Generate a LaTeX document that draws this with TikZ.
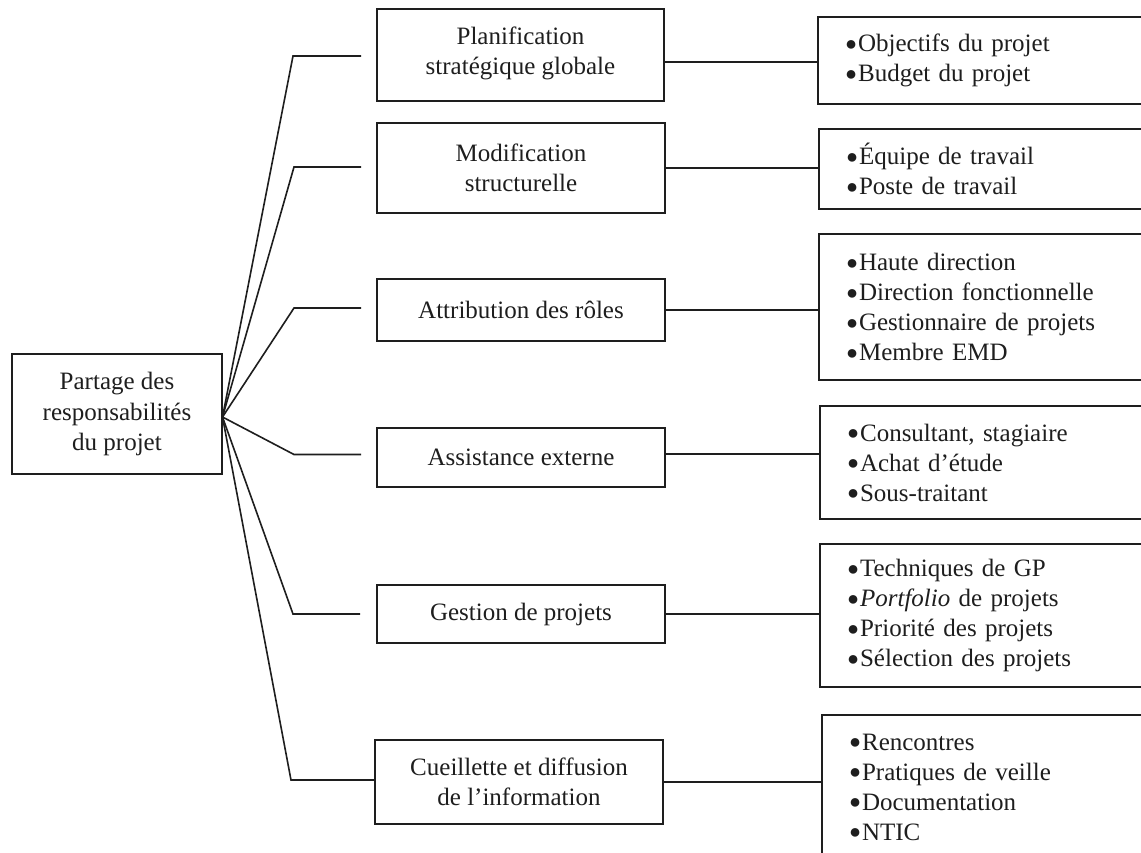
\documentclass[tikz,border=0pt]{standalone}
\usepackage{fontspec}
\setmainfont{Liberation Serif}
\definecolor{ink}{HTML}{1E1E1E}
\newcommand\pbul{\raisebox{1.2pt}{\fontsize{20}{20}\selectfont ●}\hspace{1pt}}
\tikzset{
  box/.style={draw=ink, line width=1.8pt, align=center, inner sep=0pt, text=ink,
    font=\fontsize{25}{30.5}\selectfont},
  rbox/.style={draw=ink, line width=1.8pt, align=left, inner xsep=27pt, inner ysep=0pt,
    text=ink, text width=288pt, font=\fontsize{25}{30}\selectfont},
  conn/.style={draw=ink, line width=1.6pt},
}
\begin{document}
\begin{tikzpicture}[x=1pt,y=-1pt]
\useasboundingbox (0,0) rectangle (1141,852);
\clip (0,0) rectangle (1141,852);
\fill[white] (0,0) rectangle (1141,852);

% hub
\node[box, minimum width=210pt, minimum height=120pt] (hub) at (117,414)
  {Partage des\\responsabilités\\du projet};

% middle boxes
\node[box, minimum width=287pt, minimum height=92pt] (m1) at (520.5,55)
  {Planification\\stratégique globale\\[-22pt]\mbox{}};
\node[box, minimum width=288pt, minimum height=90pt] (m2) at (521,168)
  {Modification\\structurelle};
\node[box, minimum width=288pt, minimum height=62pt] (m3) at (521,310)
  {Attribution des rôles};
\node[box, minimum width=288pt, minimum height=59pt] (m4) at (521,457.5)
  {Assistance externe};
\node[box, minimum width=288pt, minimum height=58pt] (m5) at (521,614)
  {Gestion de projets};
\node[box, minimum width=288pt, minimum height=84pt] (m6) at (519,782)
  {Cueillette et diffusion\\de l’information};

% right boxes
\node[rbox, minimum height=87pt] (r1) at (989,60.5)
  {\pbul Objectifs du projet\\\pbul Budget du projet};
\node[rbox, minimum height=80pt] (r2) at (990,169)
  {\pbul Équipe de travail\\\pbul Poste de travail};
\node[rbox, minimum height=146pt] (r3) at (990,307)
  {\pbul Haute direction\\\pbul Direction fonctionnelle\\\pbul Gestionnaire de projets\\\pbul Membre EMD};
\node[rbox, minimum height=113pt] (r4) at (991,462.5)
  {\pbul Consultant, stagiaire\\\pbul Achat d’étude\\\pbul Sous-traitant};
\node[rbox, minimum height=143pt] (r5) at (991,615.5)
  {\pbul Techniques de GP\\\pbul \textit{Portfolio} de projets\\\pbul Priorité des projets\\\pbul Sélection des projets};
\node[rbox, minimum height=144pt] (r6) at (993,787)
  {\pbul Rencontres\\\pbul Pratiques de veille\\\pbul Documentation\\\pbul NTIC};

% hub connectors
\coordinate (hp) at (222.5,417);
\coordinate (k1) at (293,56);  \coordinate (e1) at (361,56);
\coordinate (k2) at (294,167); \coordinate (e2) at (361,167);
\coordinate (k3) at (294,308); \coordinate (e3) at (361,308);
\coordinate (k4) at (294,454.5); \coordinate (e4) at (361,454.5);
\coordinate (k5) at (293,614); \coordinate (e5) at (360,614);
\coordinate (k6) at (291,780);
\draw[conn] (hp) -- (k1) -- (e1);
\draw[conn] (hp) -- (k2) -- (e2);
\draw[conn] (hp) -- (k3) -- (e3);
\draw[conn] (hp) -- (k4) -- (e4);
\draw[conn] (hp) -- (k5) -- (e5);
\draw[conn] (hp) -- (k6) -- (k6 -| m6.west);

% middle to right connectors
\draw[conn] ([yshift=-7pt]m1.east) -- ([yshift=-7pt]m1.east -| r1.west);
\draw[conn] (m2.east) -- (m2.east -| r2.west);
\draw[conn] (m3.east) -- (m3.east -| r3.west);
\draw[conn] ([yshift=3.5pt]m4.east) -- ([yshift=3.5pt]m4.east -| r4.west);
\draw[conn] (m5.east) -- (m5.east -| r5.west);
\draw[conn] (m6.east) -- (m6.east -| r6.west);
\end{tikzpicture}
\end{document}
